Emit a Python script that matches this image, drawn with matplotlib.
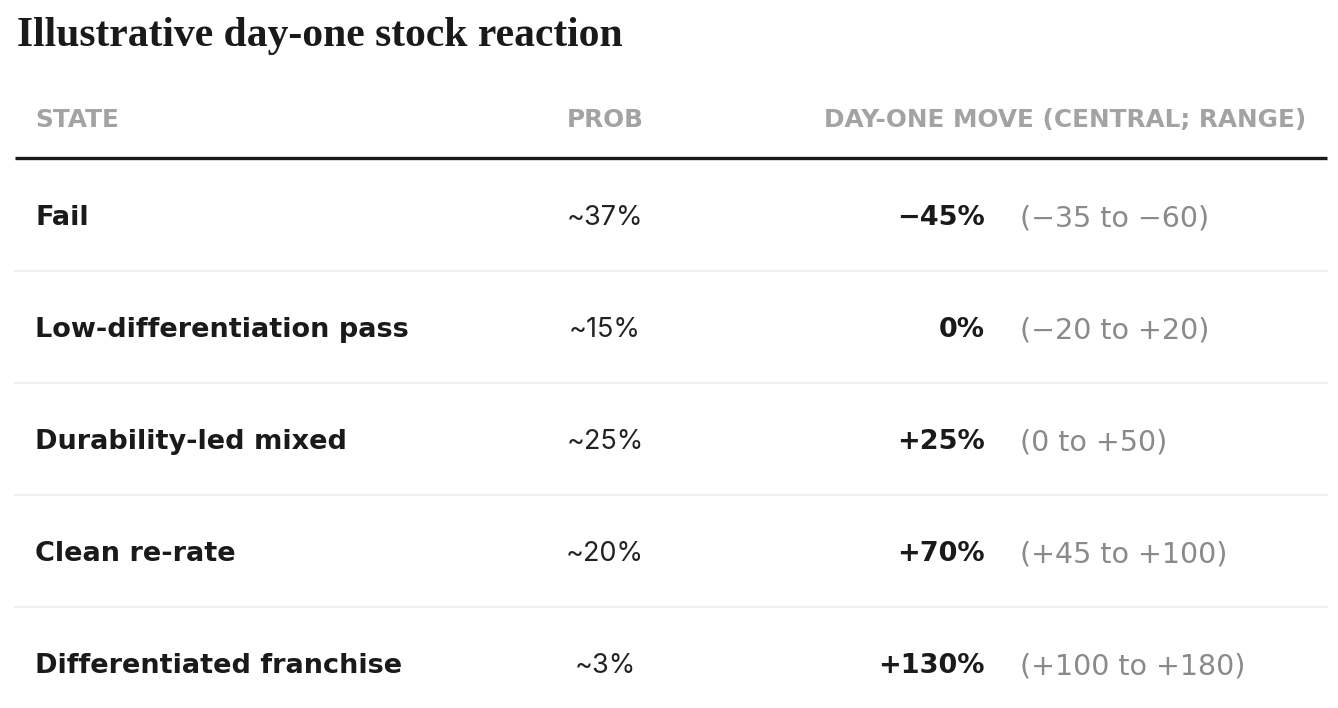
import matplotlib.pyplot as plt

states = ['Fail', 'Low-differentiation pass', 'Durability-led mixed',
          'Clean re-rate', 'Differentiated franchise']
probs = ['~37%', '~15%', '~25%', '~20%', '~3%']
central = ['\u221245%', '0%', '+25%', '+70%', '+130%']
ranges = ['(\u221235 to \u221260)', '(\u221220 to +20)', '(0 to +50)',
          '(+45 to +100)', '(+100 to +180)']
headers = ['STATE', 'PROB', 'DAY-ONE MOVE (CENTRAL; RANGE)']
title = 'Illustrative day-one stock reaction'

W, H = 1338, 708
fig = plt.figure(figsize=(W / 100, H / 100), dpi=100)
ax = fig.add_axes([0, 0, 1, 1])
ax.set_xlim(0, W)
ax.set_ylim(H, 0)
ax.axis('off')

sans = 'DejaVu Sans'

ax.text(17, 36, title, fontsize=30, fontweight='bold', family='Liberation Serif',
        color='#1a1a1a', va='center', ha='left')

# header
hy = 120
hdr = dict(fontsize=17.8, fontweight='bold', family=sans, color='#a3a3a3', va='center')
ax.text(35, hy, headers[0], ha='left', **hdr)
ax.text(605, hy, headers[1], ha='center', **hdr)
ax.text(1306, hy, headers[2], ha='right', **hdr)
ax.plot([15, 1327], [158, 158], color='#1a1a1a', lw=2.4, solid_capstyle='butt')

row0, step = 218, 112
for i in range(len(states)):
    y = row0 + i * step
    ax.text(35, y, states[i], ha='left', va='center', fontsize=19.5,
            fontweight='bold', family=sans, color='#1a1a1a')
    ax.text(605, y, probs[i], ha='center', va='center', fontsize=19.5,
            family='Inter', color='#222222')
    ax.text(985, y, central[i], ha='right', va='center', fontsize=19.5,
            fontweight='bold', family=sans, color='#1a1a1a')
    ax.text(1020, y, ranges[i], ha='left', va='center', fontsize=20.5,
            family=sans, color='#8a8a8a')
    if i < len(states) - 1:
        ax.plot([15, 1327], [y + 53, y + 53], color='#eeeeee', lw=1.5)

fig.savefig('out.png', dpi=100, facecolor='white')
